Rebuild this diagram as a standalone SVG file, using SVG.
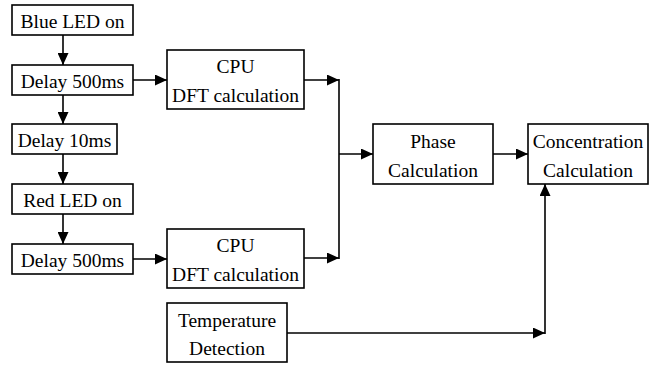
<svg xmlns="http://www.w3.org/2000/svg" width="656" height="365" viewBox="0 0 656 365">
<style>
.box{fill:#fff;stroke:#000;stroke-width:1.6}
.t{font-family:'Liberation Serif','Times New Roman',serif;font-size:19.5px;fill:#000;text-anchor:middle}
.c{fill:none;stroke:#000;stroke-width:1.6}
</style>
<defs>
<marker id="ah" markerUnits="userSpaceOnUse" markerWidth="13" markerHeight="11" refX="12" refY="5.5" orient="auto">
<path d="M0,0 L12,5.5 L0,11 Z" fill="#000"/>
</marker>
</defs>
<rect width="656" height="365" fill="#fff"/>
<g id="connectors">
<line class="c" x1="63" y1="35" x2="63" y2="65" marker-end="url(#ah)"/>
<line class="c" x1="63" y1="95" x2="63" y2="124" marker-end="url(#ah)"/>
<line class="c" x1="63" y1="154" x2="63" y2="184" marker-end="url(#ah)"/>
<line class="c" x1="63" y1="214" x2="63" y2="244" marker-end="url(#ah)"/>
<line class="c" x1="133" y1="80" x2="167" y2="80" marker-end="url(#ah)"/>
<line class="c" x1="133" y1="259" x2="167" y2="259" marker-end="url(#ah)"/>
<line class="c" x1="304" y1="80" x2="339" y2="80" marker-end="url(#ah)"/>
<line class="c" x1="304" y1="258" x2="339" y2="258" marker-end="url(#ah)"/>
<line class="c" x1="339" y1="79" x2="339" y2="259"/>
<line class="c" x1="339" y1="154" x2="373" y2="154" marker-end="url(#ah)"/>
<line class="c" x1="493" y1="154" x2="528" y2="154" marker-end="url(#ah)"/>
<line class="c" x1="287" y1="333" x2="545" y2="333" marker-end="url(#ah)"/>
<line class="c" x1="545" y1="334" x2="545" y2="184" marker-end="url(#ah)"/>
</g>
<g id="blue-led-on"><rect class="box" x="12" y="5" width="121" height="30"/><text class="t" x="72.5" y="28">Blue LED on</text></g>
<g id="delay-500ms-1"><rect class="box" x="12" y="65" width="121" height="30"/><text class="t" x="72.5" y="88">Delay 500ms</text></g>
<g id="delay-10ms"><rect class="box" x="12" y="124" width="105" height="30"/><text class="t" x="64.5" y="147">Delay 10ms</text></g>
<g id="red-led-on"><rect class="box" x="12" y="184" width="121" height="30"/><text class="t" x="72.5" y="207">Red LED on</text></g>
<g id="delay-500ms-2"><rect class="box" x="12" y="244" width="121" height="30"/><text class="t" x="72.5" y="267">Delay 500ms</text></g>
<g id="cpu-dft-1"><rect class="box" x="167" y="50" width="137" height="59"/><text class="t" x="235.5" y="73">CPU</text><text class="t" x="235.5" y="102">DFT calculation</text></g>
<g id="cpu-dft-2"><rect class="box" x="167" y="229" width="137" height="59"/><text class="t" x="235.5" y="252">CPU</text><text class="t" x="235.5" y="281">DFT calculation</text></g>
<g id="temperature-detection"><rect class="box" x="167" y="303" width="120" height="59"/><text class="t" x="227" y="327">Temperature</text><text class="t" x="227" y="355">Detection</text></g>
<g id="phase-calculation"><rect class="box" x="373" y="124" width="120" height="60"/><text class="t" x="433" y="148">Phase</text><text class="t" x="433" y="177">Calculation</text></g>
<g id="concentration-calculation"><rect class="box" x="528" y="124" width="120" height="60"/><text class="t" x="588" y="148">Concentration</text><text class="t" x="588" y="177">Calculation</text></g>
</svg>
